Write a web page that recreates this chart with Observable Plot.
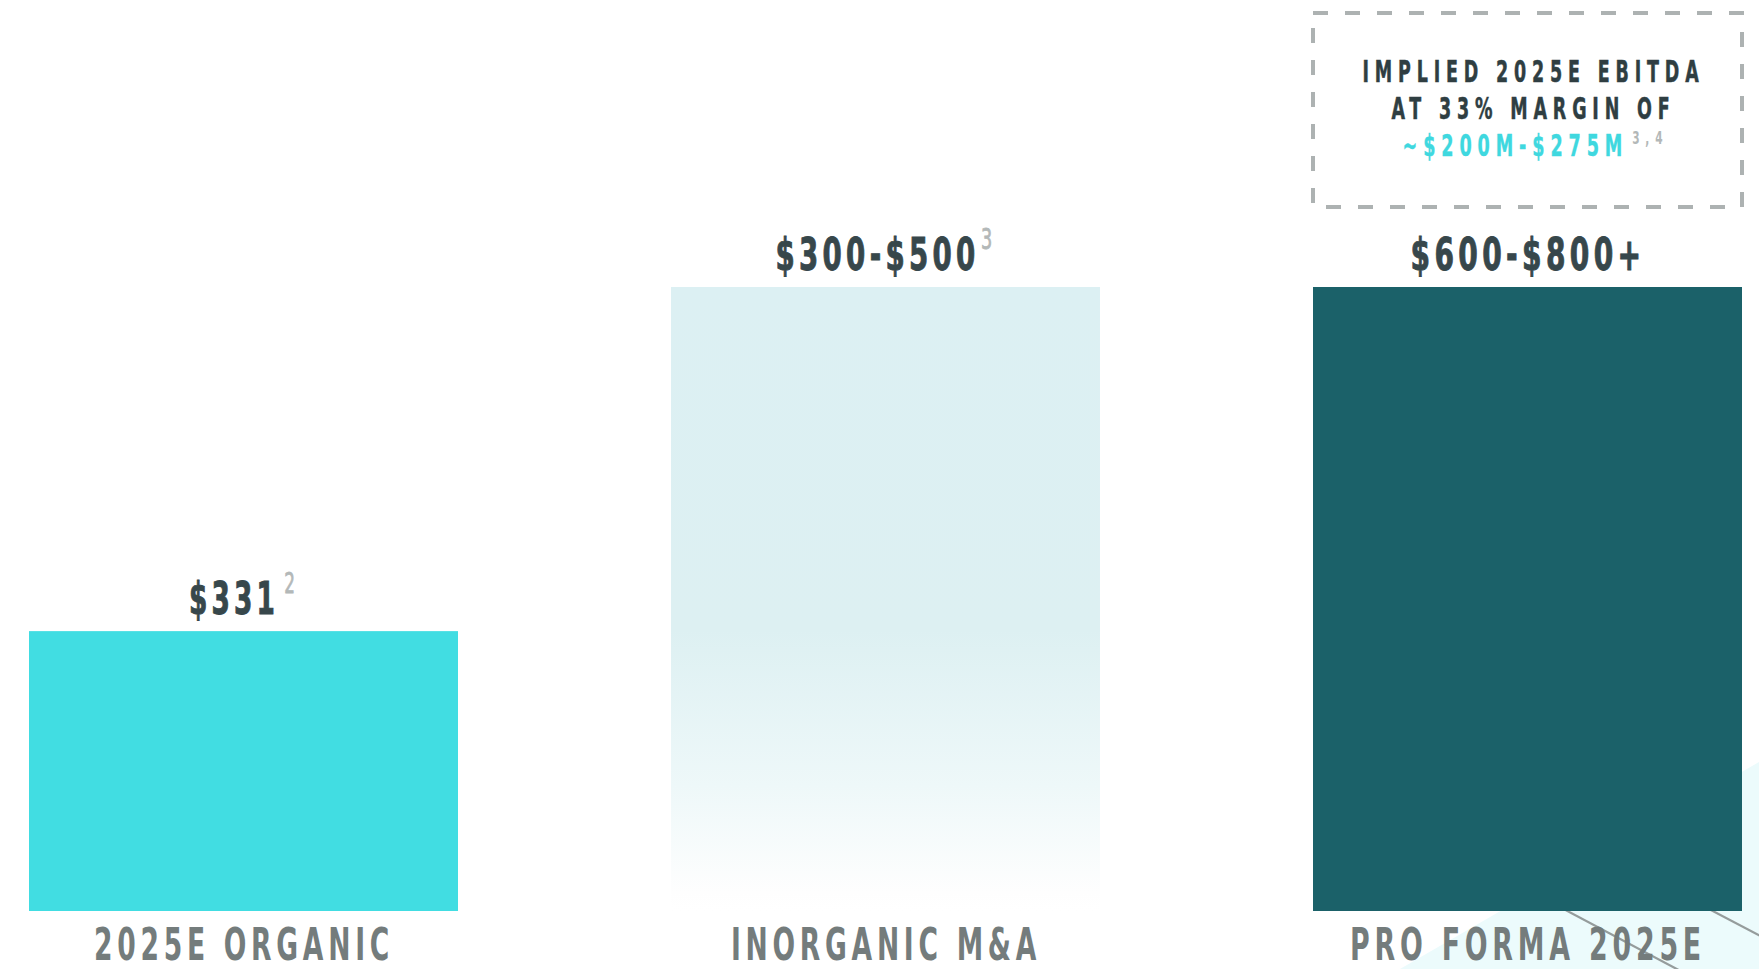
<!DOCTYPE html>
<html>
<head>
<meta charset="utf-8">
<script src="https://cdn.jsdelivr.net/npm/d3@7"></script>
<script src="https://cdn.jsdelivr.net/npm/@observablehq/plot@0.6"></script>
<style>
  html, body { margin: 0; padding: 0; background: #ffffff; }
  #chart { position: relative; width: 1759px; height: 969px; overflow: hidden; }
  #chart svg { display: block; }
</style>
</head>
<body>
<div id="chart"></div>
<script>
// ---- data ----
const categories = ["2025E ORGANIC", "INORGANIC M&A", "PRO FORMA 2025E"];
const barHeights = [331, 738, 738];          // drawn bar heights ($M scale)
const valueLabels = ["$331", "$300-$500", "$600-$800+"];
const footnotes = ["2", "3", ""];
const barFills = ["#41dde2", "url(#mnaFade)", "#1b6169"];
const noteLines = ["IMPLIED 2025E EBITDA", "AT 33% MARGIN OF"];
const noteHighlight = "~$200M-$275M";
const noteFootnote = "3,4";

// rendered widths of the condensed lettering (px)
const valueLabelWidths = [110, 221, 235];
const categoryLabelWidths = [300, 310, 356];
const noteLineWidths = [342, 284];
const noteHighlightWidth = 266;

const data = categories.map((c, i) => ({
  category: c, value: barHeights[i], label: valueLabels[i], note: footnotes[i], fill: barFills[i]
}));

const FONT = "'DejaVu Sans Condensed','DejaVu Sans',sans-serif";

const plot = Plot.plot({
  width: 1759,
  height: 969,
  margin: 0,
  style: { fontFamily: FONT, background: "transparent", overflow: "visible" },
  x: { type: "band", domain: categories, range: [28, 1743], paddingInner: 0.331, paddingOuter: 0, axis: null },
  y: { domain: [0, 738], range: [911, 287], axis: null },
  color: { type: "identity" },
  marks: [
    Plot.barY(data, { x: "category", y: "value", fill: "fill" }),
    Plot.text(data, { x: "category", y: "value", text: "label", dy: -18, lineAnchor: "bottom",
      fontSize: 44, fontWeight: "bold", fill: "#37474b" }),
    Plot.text(data, { x: "category", y: () => 0, text: "category", dy: 48, lineAnchor: "bottom",
      fontSize: 45, fontWeight: "bold", fill: "#747c7c" })
  ]
});

document.getElementById("chart").appendChild(plot);

const svg = d3.select(plot);

function fit(sel, width, spacing) {
  sel.style("letter-spacing", spacing)
    .attr("textLength", width)
    .attr("lengthAdjust", "spacingAndGlyphs");
}

// gradient for the M&A bar
const defs = svg.insert("defs", ":first-child");
const grad = defs.append("linearGradient").attr("id", "mnaFade")
  .attr("x1", 0).attr("y1", 0).attr("x2", 0).attr("y2", 1);
[[0, "#dcf0f3"], [0.55, "#ddf0f2"], [0.8, "#eef8f9"], [0.97, "#fefefe"], [1, "#ffffff"]]
  .forEach(([o, c]) => grad.append("stop").attr("offset", o).attr("stop-color", c));

// decorative background in bottom-right corner (behind bars)
const deco = svg.insert("g", "g");
deco.append("polygon").attr("points", "1400,969 1759,762 1759,969").attr("fill", "#ecfbfc");
deco.append("line").attr("x1", 1330).attr("y1", 785).attr("x2", 1690).attr("y2", 976)
  .attr("stroke", "#959c9c").attr("stroke-width", 2.2);
deco.append("line").attr("x1", 1520).attr("y1", 810).attr("x2", 1770).attr("y2", 941)
  .attr("stroke", "#959c9c").attr("stroke-width", 2.2);

// text styling: condensed lettering + footnote superscripts
const textGroups = plot.querySelectorAll('g[aria-label="text"]');
d3.select(textGroups[0]).selectAll("text").each(function (d, i) {
  const t = d3.select(this).attr("stroke", "#37474b").attr("stroke-width", 0.9);
  const note = footnotes[i];
  if (note) {
    t.append("tspan").text(note).attr("dx", i === 0 ? 8 : 2).attr("dy", -21)
      .attr("font-size", 28).attr("font-weight", "normal")
      .attr("fill", "#b3b8b8").attr("stroke", "#b3b8b8").attr("stroke-width", 0.8);
  }
  fit(t, valueLabelWidths[i], "0.14em");
});
d3.select(textGroups[1]).selectAll("text").each(function (d, i) {
  fit(d3.select(this), categoryLabelWidths[i], "0.16em");
});

// annotation box above the pro forma bar
const xs = plot.scale("x");
const bx = xs.apply(categories[2]);
const bw = xs.bandwidth;
const box = svg.append("g");
box.append("rect").attr("x", bx).attr("y", 13).attr("width", bw).attr("height", 194)
  .attr("fill", "none").attr("stroke", "#adb2b2").attr("stroke-width", 4)
  .attr("stroke-dasharray", "15 17");
const cx = bx + bw / 2 + 6;
noteLines.forEach((line, i) => {
  const t = box.append("text").attr("x", cx).attr("y", 82 + i * 37).attr("text-anchor", "middle")
    .attr("font-size", 30).attr("font-weight", "bold").attr("fill", "#2f3e42")
    .attr("stroke", "#2f3e42").attr("stroke-width", 0.5)
    .text(line);
  fit(t, noteLineWidths[i], "0.3em");
});
const t3 = box.append("text").attr("x", cx + 2).attr("y", 156).attr("text-anchor", "middle")
  .attr("font-size", 30).attr("font-weight", "bold").attr("fill", "#3fd8df")
  .attr("stroke", "#3fd8df").attr("stroke-width", 0.4);
t3.append("tspan").text(noteHighlight);
t3.append("tspan").text(noteFootnote).attr("dx", 6).attr("dy", -12)
  .attr("font-size", 18).attr("font-weight", "bold").attr("fill", "#b3b8b8").attr("stroke", "none");
fit(t3, noteHighlightWidth, "0.3em");
</script>
</body>
</html>
